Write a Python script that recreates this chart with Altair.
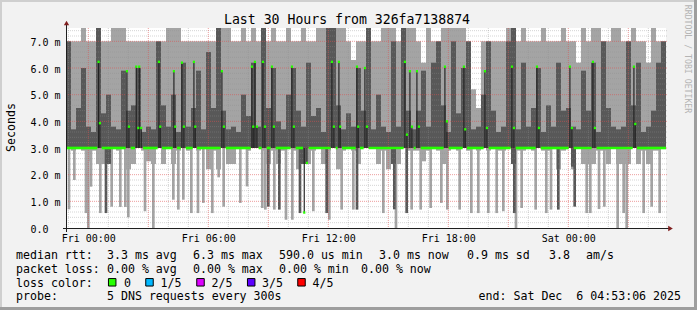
import altair as alt
import pandas as pd

MONO = "DejaVu Sans Mono"
BIN = 15            # minutes per smoke column
TOTAL = 1800        # 30 hours in minutes

# ---------------- smoke data (ms), one value per 15-minute column ----------------
light_hi = [7.0, 7.0, 7.0, 7.5, 7.0, 7.0, 7.5, 7.0, 7.0, 7.5,
            7.5, 7.5, 7.0, 7.0, 7.0, 7.0, 7.0, 7.0, 7.0, 7.0,
            7.5, 7.5, 7.5, 7.0, 7.0, 7.0, 7.0, 7.0, 7.0, 7.0,
            7.5, 7.5, 7.5, 7.0, 7.0, 7.5, 7.0, 7.5, 7.0, 7.5,
            7.0, 7.5, 7.0, 7.0, 7.5, 7.0, 7.0, 7.5, 7.0, 7.0,
            7.5, 7.5, 7.5, 7.5, 7.5, 7.5, 7.0, 6.3, 7.0, 7.0,
            7.5, 7.0, 7.0, 7.5, 7.5, 7.5, 7.0, 7.5, 7.5, 7.5,
            7.0, 6.2, 7.5, 7.0, 7.0, 7.5, 7.5, 7.5, 7.5, 7.5,
            7.0, 5.2, 4.5, 7.0, 7.0, 7.0, 7.0, 7.0, 7.5, 7.5,
            7.0, 7.5, 7.0, 7.0, 7.0, 7.5, 7.0, 7.0, 7.0, 7.5,
            7.0, 7.0, 6.2, 7.5, 7.0, 7.5, 7.5, 7.0, 7.0, 7.5,
            7.5, 7.0, 7.0, 7.5, 7.0, 7.0, 6.2, 7.5, 7.0, 7.0]
light_lo = [3.0, 2.9, 3.0, 2.9, 2.5, 2.9, 2.4, 2.4, 2.4, 3.0,
            2.9, 3.0, 2.2, 2.4, 3.0, 2.9, 2.5, 2.4, 3.0, 2.4,
            3.0, 2.4, 2.9, 3.0, 2.9, 3.0, 2.9, 3.0, 2.2, 2.9,
            2.2, 3.0, 2.4, 2.4, 3.0, 3.0, 2.9, 3.0, 3.0, 2.9,
            2.4, 2.9, 2.4, 2.9, 3.0, 2.9, 2.2, 2.4, 2.4, 2.9,
            3.0, 2.4, 2.9, 3.0, 2.2, 2.9, 3.0, 2.9, 2.4, 3.0,
            3.0, 3.0, 2.4, 2.9, 2.2, 2.4, 2.4, 3.0, 2.9, 2.9,
            2.9, 2.5, 2.9, 3.0, 2.9, 2.4, 2.9, 3.0, 2.9, 3.0,
            2.9, 3.0, 2.9, 3.0, 2.9, 3.0, 2.9, 2.9, 3.0, 2.4,
            2.9, 2.9, 3.0, 2.9, 3.0, 2.9, 2.9, 3.0, 2.2, 2.9,
            3.0, 2.2, 3.0, 2.4, 2.4, 2.4, 2.9, 2.9, 2.4, 3.0,
            2.4, 2.4, 2.4, 3.0, 2.4, 2.9, 2.4, 2.9, 2.9, 3.0]
dark_hi = [7.0, 3.7, 4.5, 6.0, 3.8, 3.6, 7.5, 4.3, 5.0, 3.8,
           3.7, 5.9, 4.4, 4.6, 6.0, 3.6, 3.8, 3.7, 7.0, 4.6,
           3.8, 5.0, 3.6, 6.2, 3.8, 4.5, 5.9, 3.7, 6.6, 4.5,
           7.5, 4.4, 3.7, 3.8, 3.6, 5.0, 4.2, 6.2, 3.8, 7.5,
           4.5, 6.0, 4.0, 3.7, 5.0, 6.0, 4.4, 3.8, 6.2, 4.2,
           4.5, 3.6, 7.5, 7.5, 4.6, 3.7, 4.3, 3.8, 6.0, 4.4,
           7.5, 3.7, 5.0, 3.8, 3.6, 7.0, 3.8, 7.5, 4.4, 3.7,
           4.4, 5.9, 3.8, 6.2, 7.0, 4.6, 3.6, 7.0, 4.3, 6.0,
           7.0, 3.7, 3.8, 5.0, 7.0, 4.4, 3.6, 3.8, 7.0, 7.5,
           3.7, 6.2, 3.8, 4.5, 6.0, 3.6, 4.6, 3.8, 6.2, 4.4,
           4.5, 3.8, 3.7, 5.9, 4.4, 6.2, 3.6, 7.0, 4.5, 3.8,
           3.7, 3.8, 7.0, 4.6, 6.2, 3.6, 3.8, 4.4, 6.2, 7.0]
dark_lo = [3.0, 3.0, 3.0, 3.0, 3.0, 3.0, 3.0, 3.0, 2.4, 3.0,
           3.0, 3.0, 3.0, 3.0, 3.0, 3.0, 3.0, 3.0, 3.0, 3.0,
           3.0, 3.0, 3.0, 3.0, 3.0, 3.0, 3.0, 3.0, 3.0, 3.0,
           3.0, 3.0, 3.0, 3.0, 3.0, 3.0, 3.0, 3.0, 3.0, 3.0,
           3.0, 3.0, 3.0, 3.0, 3.0, 3.0, 3.0, 2.4, 3.0, 3.0,
           3.0, 3.0, 3.0, 3.0, 3.0, 3.0, 3.0, 3.0, 3.0, 3.0,
           3.0, 3.0, 3.0, 3.0, 3.0, 2.4, 3.0, 3.0, 3.0, 3.0,
           3.0, 3.0, 3.0, 3.0, 3.0, 3.0, 3.0, 3.0, 3.0, 3.0,
           3.0, 3.0, 3.0, 3.0, 3.0, 3.0, 3.0, 3.0, 3.0, 2.4,
           3.0, 3.0, 3.0, 3.0, 3.0, 3.0, 3.0, 3.0, 3.0, 3.0,
           3.0, 2.3, 3.0, 3.0, 3.0, 3.0, 3.0, 3.0, 3.0, 3.0,
           3.0, 3.0, 3.0, 3.0, 3.0, 3.0, 3.0, 3.0, 3.0, 3.0]

# narrow light-grey tails reaching far below 3.0 ms (minute from start, lowest ms)
tail_min = [9, 25, 60, 67, 75, 103, 137, 163, 178, 187, 237, 262, 322, 337, 352,
            376, 396, 412, 439, 458, 473, 523, 543, 589, 598, 625, 660, 679, 742,
            790, 827, 862, 952, 990, 1037, 1064, 1094, 1126, 1144, 1181, 1216,
            1237, 1267, 1292, 1312, 1350, 1367, 1409, 1441, 1455, 1562, 1573,
            1599, 1615, 1655, 1673, 1682, 1733, 1757, 1781]
tail_val = [0.7, 1.8, 0.56, 0.0, 1.55, 0.56, 0.8, 0.79, 0.79, 0.4, 0.63, 0.0, 1.06,
            0.69, 1.06, 0.56, 0.56, 0.94, 0.56, 1.9, 0.8, 0.94, 1.56, 0.75, 0.69,
            0.69, 0.31, 0.31, 0.63, 0.31, 0.69, 0.69, 0.56, 0.0, 0.69, 0.69, 0.75,
            0.94, 0.69, 0.69, 0.56, 0.56, 0.56, 0.56, 0.63, 0.0, 0.75, 0.69, 0.56,
            0.69, 0.56, 0.56, 0.71, 0.8, 0.0, 0.56, 0.0, 0.56, 0.8, 0.56]
# narrow dark-grey tails
dtail_min = [120, 607, 640, 702, 782, 873, 985, 1022, 1345, 1477, 1526]
dtail_val = [0.56, 0.8, 0.69, 0.56, 0.56, 0.69, 0.7, 0.56, 0.56, 0.69, 0.8]

# median excursions away from 3.0 ms (minute from start, median ms)
spike_min = [96, 100, 181, 187, 209, 215, 218, 224, 277, 281, 322, 326, 346, 352,
             382, 386, 466, 472, 556, 560, 565, 571, 589, 595, 616, 622, 676, 682,
             713, 721, 796, 802, 817, 821, 871, 875, 895, 901, 1015, 1021, 1030,
             1036, 1051, 1057, 1135, 1141, 1192, 1196, 1255, 1261, 1336, 1342,
             1411, 1417, 1510, 1516, 1579, 1585, 1702, 1706]
spike_val = [6.23, 3.93, 5.88, 3.8, 6.05, 3.75, 6.05, 3.75, 6.23, 3.8, 5.88, 3.8,
             6.2, 3.8, 6.23, 3.8, 5.88, 3.8, 6.05, 3.8, 6.23, 3.8, 6.23, 3.8, 6.05,
             3.8, 6.05, 3.8, 0.58, 2.44, 6.23, 3.8, 6.23, 3.8, 6.05, 3.8, 6.0, 3.8,
             6.23, 3.5, 5.88, 3.8, 5.88, 3.8, 6.05, 4.0, 6.05, 3.7, 5.88, 3.75, 6.05,
             3.75, 6.05, 3.75, 6.05, 3.75, 6.23, 3.75, 6.05, 3.9]
BASE_MEDIAN = 3.0

y_ticks = [0, 1, 2, 3, 4, 5, 6, 7]
y_labels = ["0.0", "1.0 m", "2.0 m", "3.0 m", "4.0 m", "5.0 m", "6.0 m", "7.0 m"]
x_tick_min = [66.9, 426.9, 786.9, 1146.9, 1506.9]
x_labels = ["Fri 00:00", "Fri 06:00", "Fri 12:00", "Fri 18:00", "Sat 00:00"]

loss_names = ["0", "1/5", "2/5", "3/5", "4/5"]
loss_colors = ["#26ff00", "#00b8ff", "#dd00ff", "#5e00ff", "#ff0000"]

# ---------------- tables ----------------
n = len(light_hi)
bins = pd.DataFrame({
    "m0": [i * BIN for i in range(n)], "m1": [(i + 1) * BIN for i in range(n)],
    "lh": light_hi, "ll": light_lo, "dh": dark_hi, "dl": dark_lo,
})
tails = pd.DataFrame({"m0": [m - 4 for m in tail_min], "m1": [m + 4 for m in tail_min],
                      "lo": tail_val, "hi": [BASE_MEDIAN] * len(tail_min)})
dtails = pd.DataFrame({"m0": [m - 4 for m in dtail_min], "m1": [m + 4 for m in dtail_min],
                       "lo": dtail_val, "hi": [BASE_MEDIAN] * len(dtail_min)})
spikes = pd.DataFrame({"m0": spike_min, "m1": [m + 3.5 for m in spike_min],
                       "c0": [m - 1.5 for m in spike_min], "c1": [m + 5 for m in spike_min],
                       "v": spike_val, "base": [BASE_MEDIAN] * len(spike_min),
                       "v0": [v - 0.045 for v in spike_val], "v1": [v + 0.045 for v in spike_val]})

# green median baseline: 3.0 everywhere except where the median leaves it
gaps = sorted((m - 2, m + 7) for m in spike_min)
merged = []
for a, b in gaps:
    if merged and a <= merged[-1][1]:
        merged[-1][1] = max(merged[-1][1], b)
    else:
        merged.append([a, b])
segs, cur = [], 0
for a, b in merged:
    segs.append((cur, a))
    cur = b
segs.append((cur, TOTAL))
green = pd.DataFrame({"m0": [s[0] for s in segs], "m1": [s[1] for s in segs],
                      "y0": [BASE_MEDIAN - 0.05] * len(segs), "y1": [BASE_MEDIAN + 0.05] * len(segs)})

# grid positions
hour_marks = [6.9 + 60 * k for k in range(30)]
vmajor = pd.DataFrame({"m": [h for k, h in enumerate(hour_marks) if k % 3 == 1]})
vminor = pd.DataFrame({"m": [h for k, h in enumerate(hour_marks) if k % 3 != 1]})
hmajor = pd.DataFrame({"v": [1, 2, 3, 4, 5, 6, 7]})
hminor = pd.DataFrame({"v": [round(0.2 * k, 1) for k in range(1, 38) if k % 5 != 0]})

xs = alt.Scale(domain=[0, TOTAL], nice=False, zero=False)
ys = alt.Scale(domain=[0, 7.5], nice=False, zero=True)
dummy = pd.DataFrame({"d": [0]})

x_expr = "[" + ",".join("'%s'" % s for s in x_labels) + "][round((datum.value - 66.9) / 360)]"
y_expr = "[" + ",".join("'%s'" % s for s in y_labels) + "][round(datum.value)]"

X_AXIS = alt.Axis(values=x_tick_min, labelExpr=x_expr, grid=False, ticks=False,
                  domain=False, labelFont=MONO, labelFontSize=10, labelColor="#000",
                  labelPadding=5, labelFlush=False, labelOverlap=False, title=None)
Y_AXIS = alt.Axis(values=y_ticks, labelExpr=y_expr, grid=False, ticks=False,
                  domain=False, labelFont=MONO, labelFontSize=10, labelColor="#000",
                  labelAlign="left", labelPadding=36, labelOffset=1,
                  labelOverlap=False, title=None)

LIGHT, DARK = "#a4a4a4", "#585858"


def rect(df, x0, x1, y0, y1, color):
    return alt.Chart(df).mark_rect(color=color).encode(
        x=alt.X(x0 + ":Q", scale=xs, axis=X_AXIS), x2=x1 + ":Q",
        y=alt.Y(y0 + ":Q", scale=ys, axis=Y_AXIS), y2=y1 + ":Q")


light = rect(bins, "m0", "m1", "ll", "lh", LIGHT)
ltail = rect(tails, "m0", "m1", "lo", "hi", LIGHT)
dark = rect(bins, "m0", "m1", "dl", "dh", DARK)
dtail = rect(dtails, "m0", "m1", "lo", "hi", DARK)

GRID_C, MGRID_C = "#8f8f8f", "#de4f4f"
hmin = alt.Chart(hminor).mark_rule(color=GRID_C, strokeWidth=1, strokeDash=[1, 1], opacity=0.38).encode(
    y=alt.Y("v:Q", scale=ys, axis=Y_AXIS), x=alt.value(0), x2=alt.value(602))
vmin = alt.Chart(vminor).mark_rule(color=GRID_C, strokeWidth=1, strokeDash=[1, 1], opacity=0.38).encode(
    x=alt.X("m:Q", scale=xs, axis=X_AXIS), y=alt.value(0), y2=alt.value(200))
hmaj = alt.Chart(hmajor).mark_rule(color=MGRID_C, strokeWidth=1, strokeDash=[1, 1], opacity=0.55).encode(
    y=alt.Y("v:Q", scale=ys, axis=Y_AXIS), x=alt.value(0), x2=alt.value(602))
vmaj = alt.Chart(vmajor).mark_rule(color=MGRID_C, strokeWidth=1, strokeDash=[1, 1], opacity=0.55).encode(
    x=alt.X("m:Q", scale=xs, axis=X_AXIS), y=alt.value(0), y2=alt.value(200))

green_line = rect(green, "m0", "m1", "y0", "y1", "#26ff00")
spike_lines = rect(spikes, "m0", "m1", "base", "v", "#222222")
spike_caps = rect(spikes, "c0", "c1", "v0", "v1", "#26ff00")

# axes, arrows
yaxis = alt.Chart(dummy).mark_rule(color="#1f1f1f", strokeWidth=1).encode(
    x=alt.value(0.5), y=alt.value(-3), y2=alt.value(204))
xaxis = alt.Chart(dummy).mark_rule(color="#1f1f1f", strokeWidth=1).encode(
    y=alt.value(200.5), x=alt.value(-3), x2=alt.value(603))
up_arrow = alt.Chart(dummy).mark_point(shape="triangle-up", filled=True, color="#801f1f",
                                       size=28, opacity=1).encode(x=alt.value(0.5), y=alt.value(-5))
right_arrow = alt.Chart(dummy).mark_point(shape="triangle-right", filled=True, color="#801f1f",
                                          size=28, opacity=1).encode(x=alt.value(604.5), y=alt.value(200.5))

OX, OY = 66, 28   # plot origin in the page


def txt(s, x, y, size=11.6, align="left", angle=0, color="#000", baseline="alphabetic"):
    return alt.Chart(dummy).mark_text(text=s, align=align, baseline=baseline, font=MONO,
                                      fontSize=size, angle=angle, color=color).encode(
        x=alt.value(x - OX), y=alt.value(y - OY))


texts = [
    txt("Last 30 Hours from 326fa7138874", 347, 24, size=13.2, align="center"),
    txt("Seconds", 15, 127.5, size=11.6, align="center", angle=270),
    txt("RRDTOOL / TOBI OETIKER", 685, 59, size=8.2, align="center", angle=90, color="#b4b4b4"),
]
line1 = [("median rtt:", 16), ("3.3 ms avg", 107), ("6.3 ms max", 193), ("590.0 us min", 279),
         ("3.0 ms now", 379), ("0.9 ms sd", 467), ("3.8", 549), ("am/s", 586)]
line2 = [("packet loss:", 16), ("0.00 % avg", 107), ("0.00 % max", 193), ("0.00 % min", 279),
         ("0.00 % now", 361)]
line3 = [("loss color:", 16), ("0", 124), ("1/5", 160.5), ("2/5", 211.5), ("3/5", 262), ("4/5", 312.5)]
line4 = [("probe:", 16), ("5 DNS requests every 300s", 107)]
for line, yb in ((line1, 259), (line2, 272.5), (line3, 286.5), (line4, 300)):
    for s, x in line:
        texts.append(txt(s, x, yb))
texts.append(txt("end: Sat Dec\u00a0\u00a06 04:53:06 2025", 681, 300, align="right"))

sq_x = [112.2, 149.5, 200.5, 251.2, 301.5]
squares = []
for c, x in zip(loss_colors, sq_x):
    squares.append(alt.Chart(dummy).mark_square(size=56, color=c, stroke="#000", strokeWidth=1,
                                                opacity=1).encode(
        x=alt.value(x - OX), y=alt.value(282.3 - OY)))

# 3-D frame of the image
W, H = 697, 310


def frame(x0, x1, y0, y1, color):
    return alt.Chart(dummy).mark_rect(color=color).encode(
        x=alt.value(x0 - OX), x2=alt.value(x1 - OX), y=alt.value(y0 - OY), y2=alt.value(y1 - OY))


frames = [frame(0, W, 0, 2, "#cfcfcf"), frame(0, 2, 0, H, "#cfcfcf"),
          frame(0, W, H - 3, H, "#9e9e9e"), frame(W - 3, W, 0, H, "#9e9e9e")]

chart = alt.layer(
    light, ltail, dark, dtail, hmin, vmin, hmaj, vmaj, green_line, spike_lines, spike_caps,
    yaxis, xaxis, up_arrow, right_arrow, *texts, *squares, *frames
).properties(
    width=600, height=200,
    autosize=alt.AutoSizeParams(type="none"),
    padding={"left": 66, "top": 28, "right": 31, "bottom": 82},
).configure(background="#f2f2f2").configure_view(stroke=None, fill="#ffffff")

chart.save("out.html", embed_options={"renderer": "svg", "actions": False})
